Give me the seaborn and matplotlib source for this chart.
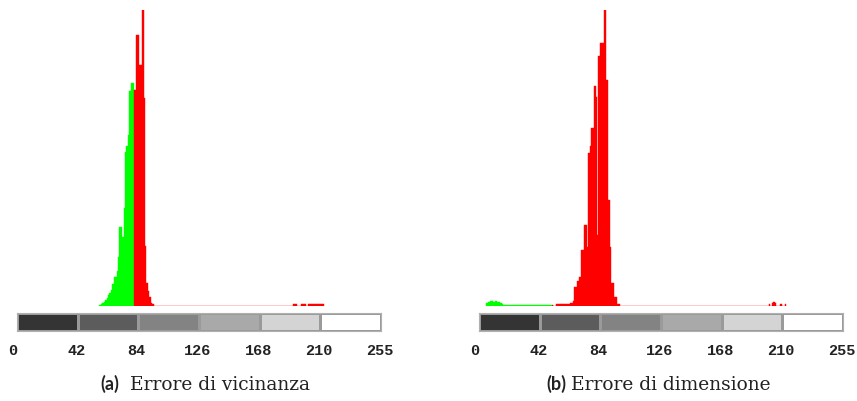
import numpy as np
import matplotlib
matplotlib.use("Agg")
import matplotlib.pyplot as plt
import matplotlib.transforms as mtransforms
from matplotlib.colors import ListedColormap
import seaborn as sns

sns.set_style("white")

# ====== dati: istogrammi dei livelli di grigio ======
# (a) errore di vicinanza
a_green_levels = [58, 59, 60, 61, 62, 63, 64, 65, 66, 67, 68, 69, 70, 71, 72, 73, 74, 75, 76, 77, 78, 79, 80, 81]
a_green_counts = [1, 2, 3, 4, 6, 8, 11, 13, 16, 22, 29, 29, 35, 49, 79, 79, 69, 98, 154, 160, 171, 215, 223, 223]
a_red_levels = [82, 83, 84, 85, 86, 87, 88, 89, 90, 91, 92, 93, 94, 95,
                194, 195, 196, 200, 201, 202, 205, 206, 207, 208, 209, 210, 211, 212, 213, 214, 215]
a_red_counts = [216, 216, 271, 271, 241, 241, 330, 208, 60, 23, 15, 9, 3, 2,
                2, 2, 2, 2, 2, 2, 2, 2, 2, 2, 2, 2, 2, 2, 2, 2, 2]

# (b) errore di dimensione
b_green_levels = list(range(5, 51))
b_green_counts = [3, 4, 4, 5, 5, 4, 5, 5, 4, 4, 3, 2] + [1.5] * 34
b_red_levels = [51] + list(range(54, 99)) + [204, 206, 207, 208, 212, 215]
b_red_counts = [1.5] + [2] * 10 + [3, 3, 5, 19, 19, 25, 29, 29, 56, 56, 81, 81, 59, 153, 160,
               178, 178, 220, 209, 71, 250, 263, 263, 263, 330, 226, 226, 106, 59, 23,
               23, 9, 9, 2, 2] + [2, 3, 4, 3, 2, 2]

band_labels = ["0", "42", "84", "126", "168", "210", "255"]
band_colors = ["#343434", "#5c5c5c", "#838383", "#a9a9a9", "#d4d4d4", "#ffffff"]

captions = [("(a)", "Errore di vicinanza"), ("(b)", "Errore di dimensione")]

W, H = 857, 401
fig = plt.figure(figsize=(W / 100, H / 100), dpi=100)


def px(x0, y0, w, h):
    return [x0 / W, (H - y0 - h) / H, w / W, h / H]


panels = [
    (17, a_green_levels, a_green_counts, a_red_levels, a_red_counts, 100, 130),
    (479, b_green_levels, b_green_counts, b_red_levels, b_red_counts, 546, 571),
]

for i, (x0, gl, gc, rl, rc, cap_x, txt_x) in enumerate(panels):
    ax = fig.add_axes(px(x0, 10, 364, 296))
    sns.histplot(x=gl, weights=gc, discrete=True, color="#00ff00", alpha=1,
                 edgecolor="#00ff00", linewidth=0.3, ax=ax)
    sns.histplot(x=rl, weights=rc, discrete=True, color="#ff0000", alpha=1,
                 edgecolor="#ff0000", linewidth=0.3, ax=ax)
    ax.set_xlim(-0.5, 255.5)
    ax.set_ylim(0, 296)
    ax.set_axis_off()

    # barra dei livelli di grigio
    cax = fig.add_axes(px(x0, 313, 364, 18))
    sns.heatmap(np.arange(6).reshape(1, 6), cmap=ListedColormap(band_colors),
                cbar=False, linewidths=0.8, linecolor="#9a9a9a", ax=cax)
    for s in cax.spines.values():
        s.set_visible(True)
        s.set_color("#b0b0b0")
        s.set_linewidth(0.8)
    cax.set_yticks([])
    cax.set_xticks(range(7))
    cax.set_xticklabels(band_labels, rotation=0, family="Liberation Mono",
                        fontweight="bold", fontsize=11, color="#222222")
    cax.tick_params(axis="x", length=0, pad=9.5)
    for j, lab in enumerate(cax.get_xticklabels()):
        dx = -4 if j == 0 else -1.5
        lab.set_transform(lab.get_transform() +
                          mtransforms.ScaledTranslation(dx / 100, 0, fig.dpi_scale_trans))

    tag, text = captions[i]
    fig.text(cap_x / W, 11 / H, tag, family="Lato", fontweight="bold",
             fontsize=13, va="baseline", ha="left", color="#222222")
    fig.text(txt_x / W, 11 / H, text, family="DejaVu Serif",
             fontsize=13.4, va="baseline", ha="left", color="#222222")

fig.savefig("out.png", dpi=100)
